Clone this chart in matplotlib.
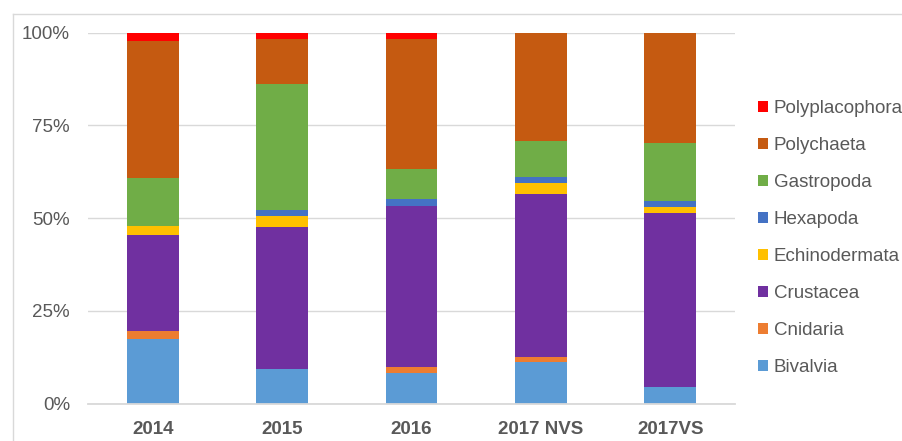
import matplotlib
matplotlib.use("Agg")
import matplotlib.pyplot as plt
from matplotlib.patches import Patch
from matplotlib.lines import Line2D
import numpy as np

categories = ["2014", "2015", "2016", "2017 NVS", "2017VS"]
groups = ["Bivalvia", "Cnidaria", "Crustacea", "Echinodermata",
          "Hexapoda", "Gastropoda", "Polychaeta", "Polyplacophora"]
bivalvia = [17.3, 9.3, 8.1, 11.3, 4.5]
cnidaria = [2.2, 0.0, 1.7, 1.3, 0.0]
crustacea = [26.0, 38.3, 43.4, 43.9, 47.0]
echinodermata = [2.4, 3.1, 0.0, 3.0, 1.5]
hexapoda = [0.0, 1.6, 1.9, 1.7, 1.6]
gastropoda = [12.9, 33.9, 8.1, 9.7, 15.7]
polychaeta = [37.0, 12.2, 35.2, 29.1, 29.7]
polyplacophora = [2.2, 1.6, 1.6, 0.0, 0.0]
colors = ["#5B9BD5", "#ED7D31", "#7030A0", "#FFC000",
          "#4472C4", "#70AD47", "#C55A11", "#FF0000"]
yticklabels = ["0%", "25%", "50%", "75%", "100%"]

series = [bivalvia, cnidaria, crustacea, echinodermata,
          hexapoda, gastropoda, polychaeta, polyplacophora]
data = np.array(series, dtype=float)
data = data / data.sum(axis=0)

plt.rcParams['font.family'] = ['Liberation Sans', 'DejaVu Sans']
W, H = 902, 441
fig = plt.figure(figsize=(W / 100, H / 100), dpi=100)
ax = fig.add_axes([88 / W, 1 - 403.5 / H, (735 - 88) / W, (403.5 - 32.7) / H])

x = np.arange(len(categories))
bottom = np.zeros(len(categories))
for vals, c, name in zip(data, colors, groups):
    ax.bar(x, vals, bottom=bottom, width=0.4, color=c, label=name, zorder=3)
    bottom += vals

ax.set_xlim(-0.5, len(categories) - 0.5)
ax.set_ylim(0, 1)
ax.set_yticks([0, 0.25, 0.5, 0.75, 1.0])
ax.set_yticklabels(yticklabels)
ax.set_xticks(x)
ax.set_xticklabels(categories, fontweight='bold')
ax.tick_params(axis='both', length=0, labelsize=13.5, colors='#595959')
ax.tick_params(axis='y', pad=13)
ax.tick_params(axis='x', pad=12.5)
for s in ['top', 'right', 'left']:
    ax.spines[s].set_visible(False)
ax.spines['bottom'].set_color('#D9D9D9')
ax.spines['bottom'].set_linewidth(1.3)
ax.spines['bottom'].set_zorder(4)
ax.yaxis.grid(True, color='#D9D9D9', linewidth=1.0, zorder=0)
ax.set_axisbelow(True)

handles = [Patch(facecolor=c, edgecolor='none') for c in colors][::-1]
labels = groups[::-1]
leg = fig.legend(handles, labels, loc='upper left',
                 bbox_to_anchor=(758 / W, 1 - 100 / H),
                 frameon=False, fontsize=13.5, handlelength=0.55,
                 handleheight=0.55, handletextpad=0.3, labelspacing=1.07,
                 borderaxespad=0, borderpad=0)
for t in leg.get_texts():
    t.set_color('#595959')

# chart-area border (left and top edges visible)
fig.add_artist(Line2D([13 / W, 13 / W], [0, 1 - 14 / H], transform=fig.transFigure,
                      color='#D9D9D9', linewidth=1.0))
fig.add_artist(Line2D([13 / W, 1], [1 - 14 / H, 1 - 14 / H], transform=fig.transFigure,
                      color='#D9D9D9', linewidth=1.0))

fig.savefig("out.png", dpi=100)
